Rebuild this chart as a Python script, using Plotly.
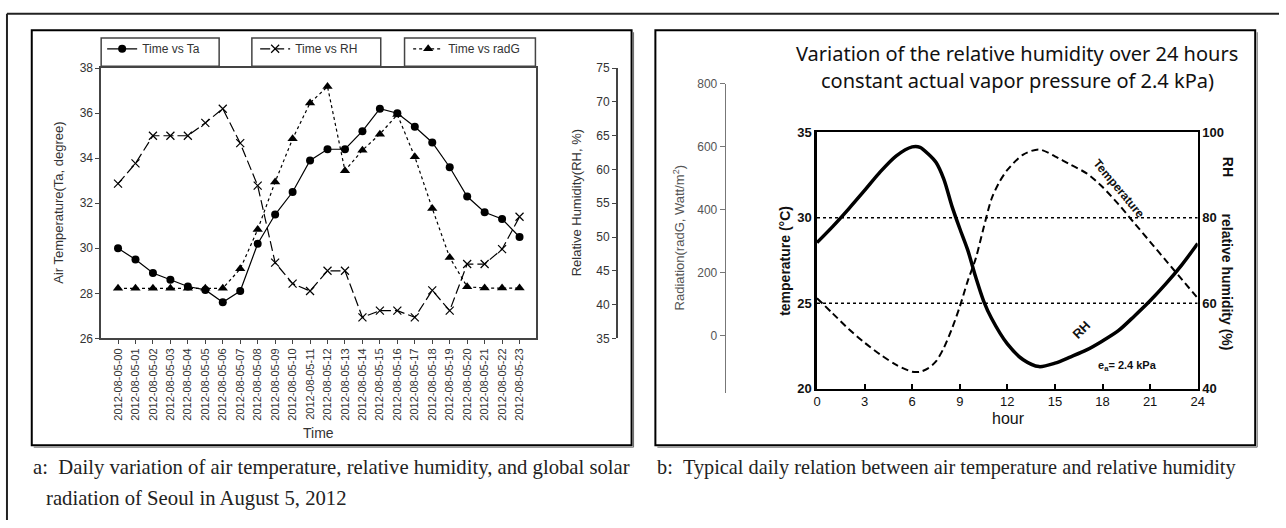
import plotly.graph_objects as go

W, H = 1286, 528
def px(x): return x / W
def py(y): return 1 - y / H

# ---------------- Panel a data ----------------
times = ["2012-08-05-00", "2012-08-05-01", "2012-08-05-02", "2012-08-05-03",
         "2012-08-05-04", "2012-08-05-05", "2012-08-05-06", "2012-08-05-07",
         "2012-08-05-08", "2012-08-05-09", "2012-08-05-10", "2012-08-05-11",
         "2012-08-05-12", "2012-08-05-13", "2012-08-05-14", "2012-08-05-15",
         "2012-08-05-16", "2012-08-05-17", "2012-08-05-18", "2012-08-05-19",
         "2012-08-05-20", "2012-08-05-21", "2012-08-05-22", "2012-08-05-23"]
ta = [30.0, 29.5, 28.9, 28.6, 28.3, 28.15, 27.6, 28.1, 30.2, 31.5, 32.5, 33.9,
      34.4, 34.4, 35.2, 36.2, 36.0, 35.4, 34.7, 33.6, 32.3, 31.6, 31.3, 30.5]
rh = [57.9, 60.9, 65.0, 65.0, 65.0, 66.9, 69.0, 63.9, 57.6, 46.2, 43.1, 42.0,
      45.0, 45.0, 38.1, 39.1, 39.1, 38.1, 42.1, 39.1, 46.0, 46.0, 48.2, 53.0]
radg = [150, 150, 150, 150, 150, 150, 150, 212, 337, 488, 625, 739,
        791, 524, 589, 640, 702, 568, 404, 248, 155, 151, 151, 151]
rad_ticks = [0, 200, 400, 600, 800]

# ---------------- Panel b data ----------------
hours_t = [0, 1, 2, 3, 4, 5, 6, 6.5, 7, 7.5, 8, 8.5, 9, 9.5, 10, 10.5, 11, 11.5,
           12, 13, 14, 15, 16, 17, 18, 19, 20, 21, 22, 23, 24]
temp_b = [25.3, 24.4, 23.5, 22.7, 22.0, 21.4, 21.0, 21.0, 21.2, 21.6, 22.4, 23.5,
          24.8, 26.3, 27.6, 29.4, 31.1, 32.1, 32.8, 33.7, 34.0, 33.6, 33.1, 32.6,
          31.8, 30.8, 29.7, 28.6, 27.5, 26.4, 25.3]
hours_rh = [0, 1, 2, 3, 4, 5, 6, 6.5, 7, 7.5, 8, 8.5, 9, 9.5, 10, 10.5, 11, 12,
            13, 14, 15, 16, 17, 18, 19, 20, 21, 22, 23, 24]
rh_b = [74.2, 78.0, 82.1, 86.4, 90.8, 94.5, 96.6, 96.5, 95.0, 93.0, 89.0, 82.8,
        77.5, 72.5, 66.2, 60.6, 56.5, 50.5, 46.8, 45.2, 46.0, 47.5, 49.1, 51.2,
        53.6, 57.0, 60.6, 64.6, 69.0, 74.0]
hour_ticks = [0, 3, 6, 9, 12, 15, 18, 21, 24]
temp_ticks = [20, 25, 30, 35]
rh_ticks = [40, 60, 80, 100]
ref_temps = [30, 25]

GRAY = "#444444"
TXT = "#333333"
SANS = "Liberation Sans, Arial, sans-serif"

fig = go.Figure()

fig.add_trace(go.Scatter(x=times, y=ta, name="Time vs Ta", mode="lines+markers",
                         line=dict(color="black", width=1.2),
                         marker=dict(symbol="circle", size=8, color="black"),
                         xaxis="x", yaxis="y", cliponaxis=False))
fig.add_trace(go.Scatter(x=times, y=rh, name="Time vs RH", mode="lines+markers",
                         line=dict(color="black", width=1.2, dash="10px,4px"),
                         marker=dict(symbol="x-thin", size=8,
                                     line=dict(color="black", width=1.2)),
                         xaxis="x", yaxis="y2", cliponaxis=False))
fig.add_trace(go.Scatter(x=times, y=radg, name="Time vs radG", mode="lines+markers",
                         line=dict(color="black", width=1.2, dash="dot"),
                         marker=dict(symbol="triangle-up", size=9, color="black"),
                         xaxis="x", yaxis="y3", cliponaxis=False))

fig.add_trace(go.Scatter(x=hours_t, y=temp_b, mode="lines", showlegend=False,
                         line=dict(color="black", width=2, dash="7px,4px",
                                   shape="spline", smoothing=0.8),
                         xaxis="x2", yaxis="y4"))
fig.add_trace(go.Scatter(x=hours_rh, y=rh_b, mode="lines", showlegend=False,
                         line=dict(color="black", width=3.5, shape="spline",
                                   smoothing=0.8),
                         xaxis="x2", yaxis="y5"))

shapes = []
# outer border
shapes.append(dict(type="line", xref="paper", yref="paper", x0=px(3), x1=1.0,
                   y0=py(7), y1=py(7), line=dict(color="#222", width=2)))
shapes.append(dict(type="line", xref="paper", yref="paper", x0=px(3), x1=px(3),
                   y0=py(7), y1=0.0, line=dict(color="#222", width=2)))
# panel frames (with slight shadow)
for (l, r) in [(28, 633), (657, 1262)]:
    shapes.append(dict(type="rect", xref="paper", yref="paper", x0=px(l), x1=px(r),
                       y0=py(451), y1=py(24), line=dict(color="black", width=2)))
    shapes.append(dict(type="line", xref="paper", yref="paper", x0=px(l + 2), x1=px(r + 2),
                       y0=py(453), y1=py(453), line=dict(color="#666", width=1)))
    shapes.append(dict(type="line", xref="paper", yref="paper", x0=px(r + 2), x1=px(r + 2),
                       y0=py(453), y1=py(26), line=dict(color="#666", width=1)))
# legend boxes
for (l, r) in [(98, 217), (250, 380), (404, 536)]:
    shapes.append(dict(type="rect", xref="paper", yref="paper", x0=px(l), x1=px(r),
                       y0=py(61), y1=py(32), line=dict(color=GRAY, width=1.5)))
# dotted reference lines in panel b
for t in ref_temps:
    shapes.append(dict(type="line", xref="x2", yref="y4", x0=0, x1=24, y0=t, y1=t,
                       line=dict(color="black", width=1.5, dash="dot")))

ann = []
def A(text, x, y, size=12, angle=0, color=TXT, family=SANS, xanchor="center", bold=False):
    ann.append(dict(text=text, x=px(x), y=py(y), xref="paper", yref="paper",
                    showarrow=False, textangle=angle, xanchor=xanchor, yanchor="middle",
                    font=dict(size=size, color=color, family=family,
                              weight="bold" if bold else "normal")))

A("Air Temperature(Ta, degree)", 55, 202, size=13, angle=-90)
A("Relative Humidity(RH, %)", 577, 202, size=13, angle=-90)
A("Time", 317, 438, size=14)
A("Radiation(radG, Watt/m<sup>2</sup>)", 681, 238, size=13, angle=-90, color="#555")
TF = "Noto Sans, Noto Sans CJK KR, sans-serif"
A("Variation of the relative humidity over 24 hours", 1022, 48, size=20, color="#111", family=TF)
A("constant actual vapor pressure of 2.4 kPa)", 1022, 76, size=20, color="#111", family=TF)
A("temperature (°C)", 787, 261, size=14, angle=-90, color="#111", bold=True)
A("RH", 1234, 165, size=14, angle=90, color="#111", bold=True)
A("relative humidity (%)", 1234, 283, size=14, angle=90, color="#111", bold=True)
A("hour", 1013, 424, size=16, color="#111")
A("RH", 1087, 332, size=13, angle=-45, color="#111", bold=True)
A("Temperature", 1125, 187, size=12, angle=50, color="#111", bold=True)
A("e<sub>a</sub>= 2.4 kPa", 1133, 370, size=11, color="#111", bold=True)
SERIF = "Liberation Serif, Times New Roman, serif"
A("a:\u2002Daily variation of air temperature, relative humidity, and global solar",
  27, 474, size=20.7, color="#222", family=SERIF, xanchor="left")
A("radiation of Seoul in August 5, 2012", 40, 506, size=20.7, color="#222", family=SERIF,
  xanchor="left")
A("b:\u2002Typical daily relation between air temperature and relative humidity",
  657, 474, size=20.3, color="#222", family=SERIF, xanchor="left")

axfont = dict(family=SANS, size=12, color=TXT)
fig.update_layout(
    width=W, height=H, margin=dict(l=0, r=0, t=0, b=0),
    paper_bgcolor="white", plot_bgcolor="rgba(0,0,0,0)",
    showlegend=True,
    legend=dict(orientation="h", x=px(99), y=py(43), xanchor="left", yanchor="middle",
                entrywidth=108, entrywidthmode="pixels", bgcolor="rgba(0,0,0,0)",
                font=dict(family=SANS, size=12, color=TXT), itemwidth=30,
                traceorder="normal"),
    xaxis=dict(domain=[px(98), px(537)], anchor="y", type="category",
               categoryorder="array", categoryarray=times,
               range=[-0.966, 23.966], tickangle=-90, ticks="outside", ticklen=4,
               tickcolor=GRAY, showline=True, linecolor=GRAY, linewidth=1.5,
               mirror=True, showgrid=False, zeroline=False,
               tickfont=dict(family=SANS, size=11, color=TXT)),
    yaxis=dict(domain=[py(341), py(63)], anchor="x", range=[26, 38], dtick=2,
               ticks="outside", ticklen=4, tickcolor=GRAY, showline=True,
               linecolor=GRAY, linewidth=1.5, mirror=True, showgrid=False,
               zeroline=False, tickfont=axfont),
    yaxis2=dict(overlaying="y", anchor="free", position=px(618), side="left",
                range=[35, 75], dtick=5, ticks="outside", ticklen=4, tickcolor=GRAY,
                showline=True, linecolor=GRAY, linewidth=1.5, showgrid=False,
                zeroline=False, tickfont=axfont),
    yaxis3=dict(anchor="free", position=px(727), side="left",
                domain=[py(397), py(79)], range=[-181.5, 800], tickvals=rad_ticks,
                ticks="outside", ticklen=5, tickcolor="#777", showline=True,
                linecolor="#777", linewidth=1.2, showgrid=False, zeroline=False,
                tickfont=dict(family=SANS, size=12, color="#555")),
    xaxis2=dict(domain=[px(820), px(1204)], anchor="y4", range=[0, 24],
                tickvals=hour_ticks, ticks="inside", ticklen=5, tickcolor="black",
                tickwidth=1.5, showline=True, linecolor="black", linewidth=2,
                mirror=True, showgrid=False, zeroline=False,
                tickfont=dict(family=SANS, size=13, color="#111")),
    yaxis4=dict(domain=[py(393), py(129)], anchor="x2", range=[20, 35],
                tickvals=temp_ticks, ticks="", showline=True, linecolor="black",
                linewidth=2.5, showgrid=False, zeroline=False,
                tickfont=dict(family=SANS, size=13, color="#111", weight="bold")),
    yaxis5=dict(overlaying="y4", anchor="x2", side="right", range=[40, 100],
                tickvals=rh_ticks, ticks="", showline=True, linecolor="black",
                linewidth=2, showgrid=False, zeroline=False,
                tickfont=dict(family=SANS, size=13, color="#111", weight="bold")),
    shapes=shapes, annotations=ann,
)

fig.write_html("out.html")
